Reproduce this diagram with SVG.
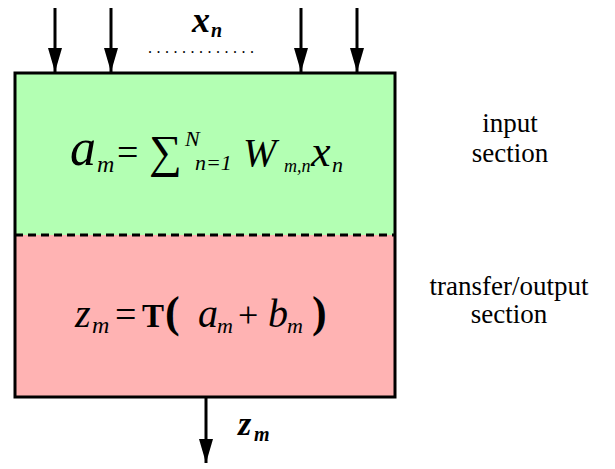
<svg xmlns="http://www.w3.org/2000/svg" width="615" height="469" viewBox="0 0 615 469">
<defs>
<marker id="ah" viewBox="0 0 24 14" refX="24" refY="7" markerWidth="24" markerHeight="14" markerUnits="userSpaceOnUse" orient="auto">
<path d="M0,0 L24,7 L0,14 z" fill="#000"/>
</marker>
</defs>
<g id="input-section">
<rect x="15" y="73" width="380" height="162" fill="#b3ffb3"/>
<text font-family="Liberation Serif" font-style="italic" x="70" y="165" font-size="52">a</text>
<text font-family="Liberation Serif" font-style="italic" x="97" y="172" font-size="24">m</text>
<text font-family="Liberation Serif" x="117" y="165" font-size="38">=</text>
<text font-family="Liberation Serif" x="149" y="167" font-size="46">∑</text>
<text font-family="Liberation Serif" font-style="italic" x="185" y="146" font-size="22">N</text>
<text font-family="Liberation Serif" font-style="italic" x="195" y="170" font-size="22">n=1</text>
<text font-family="Liberation Serif" font-style="italic" x="243" y="166" font-size="40">W</text>
<text font-family="Liberation Serif" font-style="italic" x="284" y="172" font-size="18">m,n</text>
<text font-family="Liberation Serif" font-style="italic" x="311" y="166" font-size="44">x</text>
<text font-family="Liberation Serif" font-style="italic" x="332" y="172" font-size="22">n</text>
</g>
<g id="output-section">
<rect x="15" y="235" width="380" height="162" fill="#ffb3b3"/>
<text font-family="Liberation Serif" font-style="italic" x="75" y="327" font-size="40">z</text>
<text font-family="Liberation Serif" font-style="italic" x="92" y="333" font-size="24">m</text>
<text font-family="Liberation Serif" x="115" y="327" font-size="38">=</text>
<text font-family="Liberation Serif" font-weight="bold" x="142" y="327" font-size="33">T</text>
<text font-family="Liberation Serif" font-weight="bold" x="165" y="327" font-size="44">(</text>
<text font-family="Liberation Serif" font-style="italic" x="198" y="327" font-size="40">a</text>
<text font-family="Liberation Serif" font-style="italic" x="217" y="333" font-size="22">m</text>
<text font-family="Liberation Serif" x="238" y="327" font-size="36">+</text>
<text font-family="Liberation Serif" font-style="italic" x="268" y="327" font-size="40">b</text>
<text font-family="Liberation Serif" font-style="italic" x="287" y="333" font-size="22">m</text>
<text font-family="Liberation Serif" font-weight="bold" x="312" y="327" font-size="44">)</text>
</g>
<g id="frame">
<rect x="15" y="73" width="380" height="324" fill="none" stroke="#000" stroke-width="3"/>
<line x1="15" y1="235" x2="395" y2="235" stroke="#000" stroke-width="3" stroke-dasharray="8,5"/>
</g>
<g id="inputs-label">
<text font-family="Liberation Serif" font-style="italic" font-weight="bold" x="192" y="32" font-size="36">x</text>
<text font-family="Liberation Serif" font-style="italic" font-weight="bold" x="211" y="37" font-size="20">n</text>
<text font-family="Liberation Serif" x="148" y="53" font-size="16" letter-spacing="4.5">.............</text>
</g>
<g id="output-label">
<text font-family="Liberation Serif" font-style="italic" font-weight="bold" x="238" y="435" font-size="34">z</text>
<text font-family="Liberation Serif" font-style="italic" font-weight="bold" x="254" y="441" font-size="20">m</text>
</g>
<g id="side-labels">
<text font-family="Liberation Serif" font-size="27" text-anchor="middle" x="510" y="132">input</text>
<text font-family="Liberation Serif" font-size="27" text-anchor="middle" x="510" y="162">section</text>
<text font-family="Liberation Serif" font-size="27" text-anchor="middle" x="509" y="295">transfer/output</text>
<text font-family="Liberation Serif" font-size="27" text-anchor="middle" x="509" y="323">section</text>
</g>
<g id="connectors" stroke="#000" stroke-width="3" fill="none">
<line x1="55" y1="8" x2="55" y2="72" marker-end="url(#ah)"/>
<line x1="111" y1="8" x2="111" y2="72" marker-end="url(#ah)"/>
<line x1="301" y1="8" x2="301" y2="72" marker-end="url(#ah)"/>
<line x1="357" y1="8" x2="357" y2="72" marker-end="url(#ah)"/>
<line x1="206" y1="398" x2="206" y2="463" marker-end="url(#ah)"/>
</g>
</svg>
